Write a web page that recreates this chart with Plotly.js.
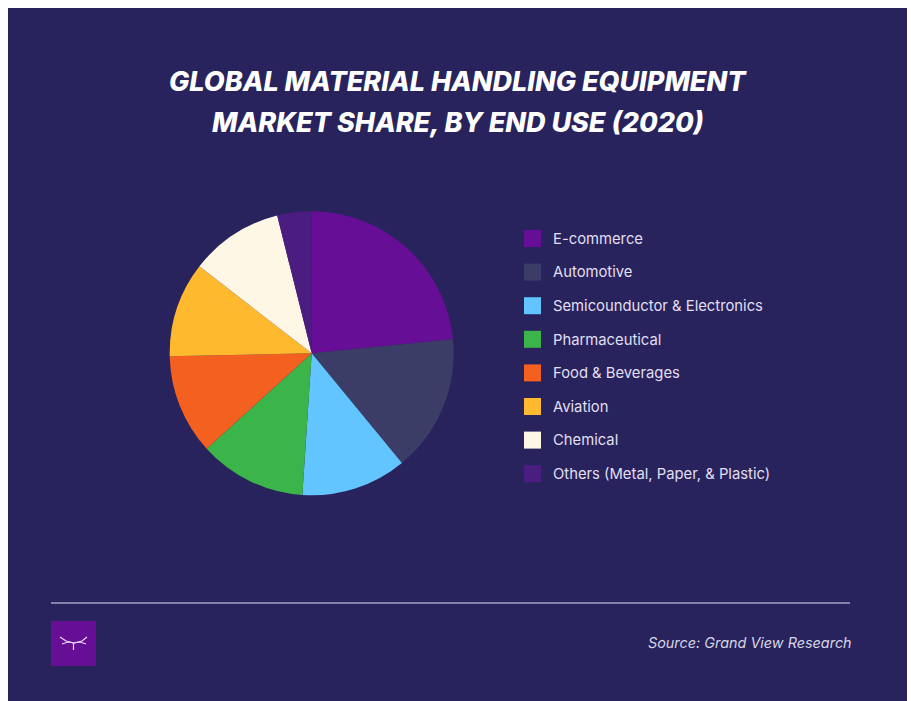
<!DOCTYPE html>
<html>
<head>
<meta charset="utf-8">
<script src="https://cdn.plot.ly/plotly-3.0.1.min.js"></script>
<style>html,body{margin:0;padding:0;background:#fff}</style>
</head>
<body>
<div id="chart" style="width:911px;height:701px"></div>
<script>
const categories = ["E-commerce", "Automotive", "Semicounductor & Electronics", "Pharmaceutical",
  "Food & Beverages", "Aviation", "Chemical", "Others (Metal, Paper, & Plastic)"];
const shares = [23.4, 15.6, 12.0, 12.2, 11.4, 10.8, 10.6, 3.9];
const sliceColors = ["#660e96", "#3b3d66", "#62c5ff", "#3bb54a", "#f4601f", "#ffb92e", "#fff7e6", "#4b1d80"];
const titleLines = ["GLOBAL MATERIAL HANDLING EQUIPMENT", "MARKET SHARE, BY END USE (2020)"];
const sourceNote = "Source: Grand View Research";

const W = 911, H = 701;
const fx = px => px / W;
const fy = py => 1 - py / H;
const BG = "#28235c";
const FONT = "Inter, 'Open Sans', sans-serif";

const cx = 311.7, cy = 353.3, r = 142;

const shapes = [
  {type: "rect", xref: "paper", yref: "paper", layer: "below", x0: fx(8), x1: fx(907), y0: fy(701), y1: fy(8),
   fillcolor: BG, line: {width: 0}},
  {type: "line", xref: "paper", yref: "paper", x0: fx(51), x1: fx(850), y0: fy(603), y1: fy(603),
   line: {color: "#a3a3c6", width: 1.5}},
  {type: "rect", xref: "paper", yref: "paper", x0: fx(51), x1: fx(96), y0: fy(666), y1: fy(621),
   fillcolor: "#660e96", line: {width: 0}}
];

// Small winged emblem inside the footer square
[[[60, 637], [66, 641], [74, 643], [82, 641], [87, 637]],
 [[62, 644], [68, 642], [74, 643], [80, 642], [86, 644]],
 [[73.5, 643], [73.5, 650]]].forEach(pts => {
  const path = pts.map((p, i) => (i ? "L" : "M") + fx(p[0]) + "," + fy(p[1])).join(" ");
  shapes.push({type: "path", xref: "paper", yref: "paper", path: path,
    line: {color: "#f0d8f6", width: 1.2}});
});

const annotations = [];
titleLines.forEach((t, i) => annotations.push({
  text: "<i>" + t + "</i>", xref: "paper", yref: "paper", x: fx(458), y: fy(81.5 + i * 41),
  xanchor: "center", yanchor: "middle", showarrow: false,
  font: {family: FONT, size: 27, weight: 800, color: "#ffffff"}
}));

// Legend column: one swatch and one label per category
categories.forEach((c, i) => {
  const py = 238.5 + i * 33.6;
  shapes.push({type: "rect", xref: "paper", yref: "paper", x0: fx(524), x1: fx(541),
    y0: fy(py + 8.5), y1: fy(py - 8.5), fillcolor: sliceColors[i], line: {width: 0}});
  annotations.push({text: c, xref: "paper", yref: "paper", x: fx(551), y: fy(py + 0.2),
    xanchor: "left", yanchor: "middle", showarrow: false,
    font: {family: FONT, size: 14.8, color: "#e2dff2"}});
});

annotations.push({text: "<i>" + sourceNote + "</i>", xref: "paper", yref: "paper", x: fx(854), y: fy(642.5),
  xanchor: "right", yanchor: "middle", showarrow: false,
  font: {family: FONT, size: 14.4, color: "#d6d5e6"}});

Plotly.newPlot("chart", [{
  type: "pie",
  labels: categories,
  values: shares,
  sort: false,
  direction: "clockwise",
  rotation: 0,
  textinfo: "none",
  hoverinfo: "label+percent",
  marker: {colors: sliceColors, line: {width: 0}},
  domain: {x: [fx(cx - r), fx(cx + r)], y: [fy(cy + r), fy(cy - r)]}
}], {
  width: W, height: H,
  margin: {l: 0, r: 0, t: 0, b: 0},
  paper_bgcolor: "#ffffff",
  showlegend: false,
  shapes: shapes,
  annotations: annotations
}, {displayModeBar: false});
</script>
</body>
</html>
